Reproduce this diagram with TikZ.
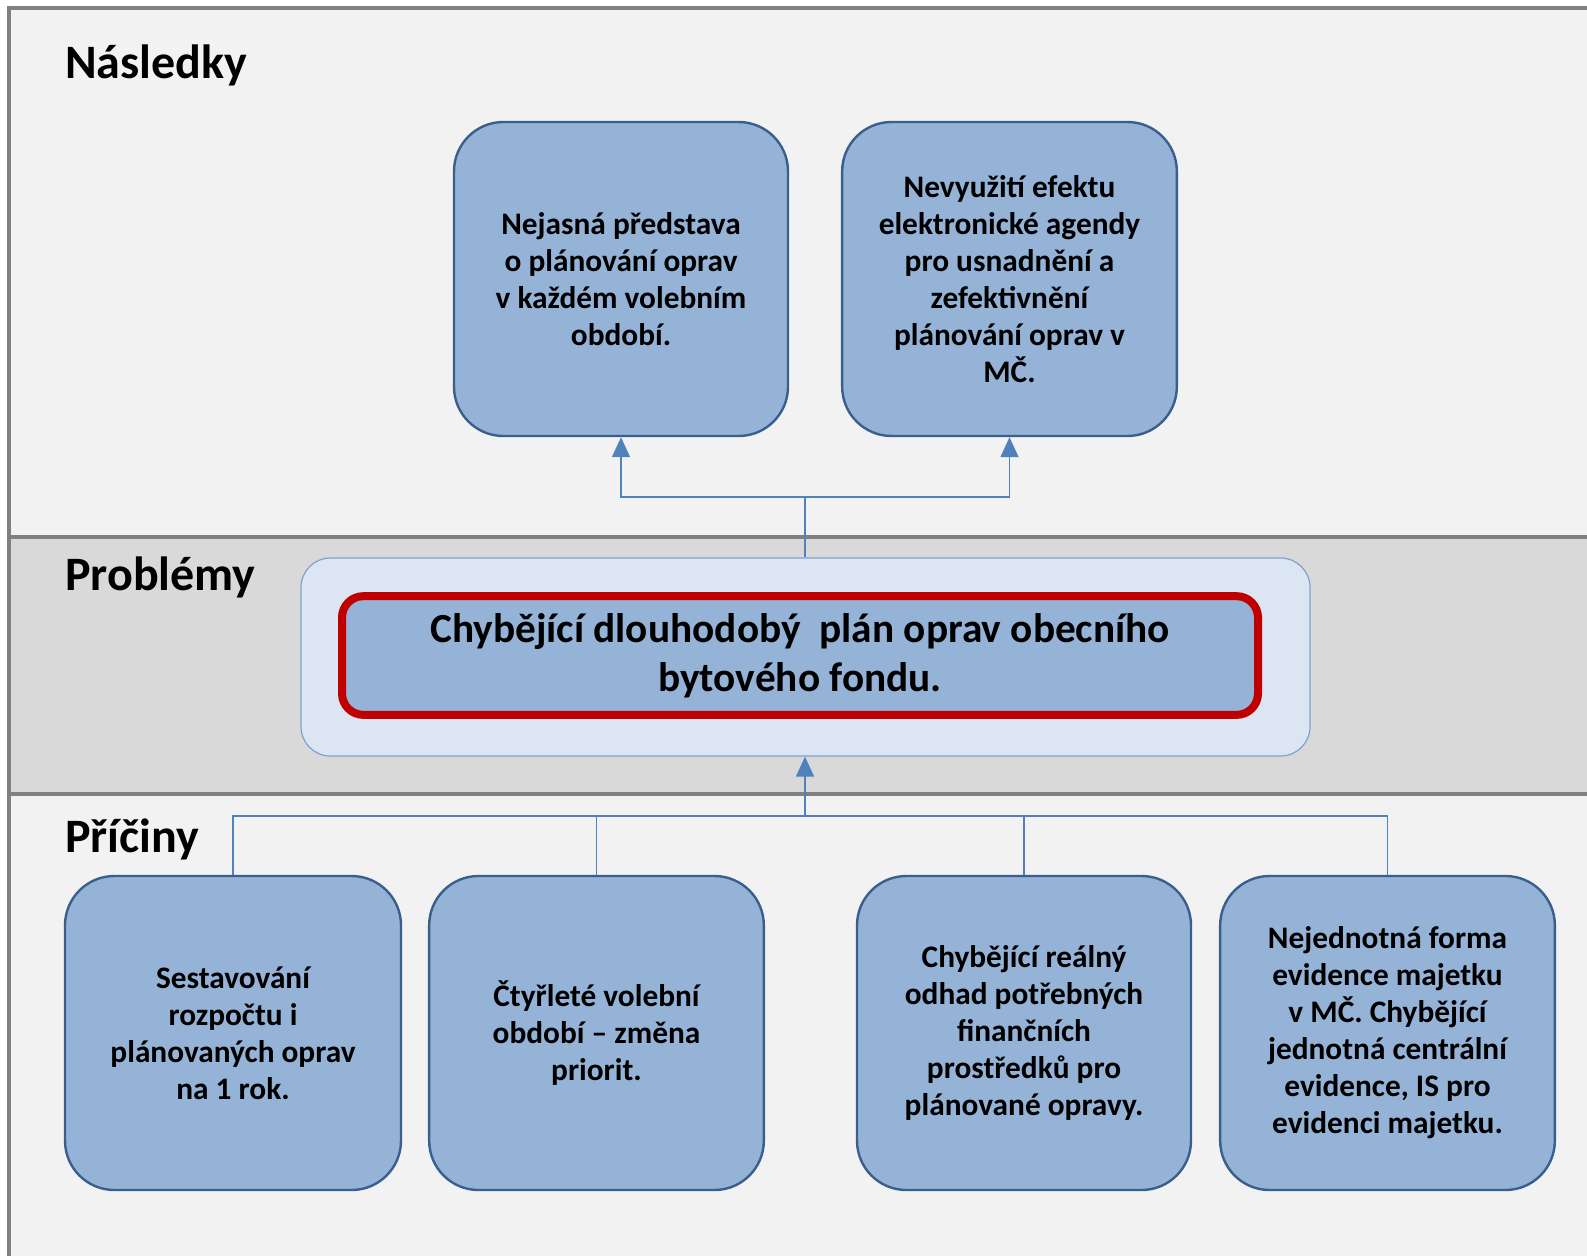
\documentclass[tikz,border=0pt]{standalone}
\usepackage{fontspec}
\setmainfont{Carlito}
\usetikzlibrary{arrows.meta}
\definecolor{bgc}{HTML}{F2F2F2}
\definecolor{bandc}{HTML}{D9D9D9}
\definecolor{framec}{HTML}{808080}
\definecolor{boxfill}{HTML}{95B3D7}
\definecolor{boxline}{HTML}{3A5F8C}
\definecolor{connc}{HTML}{4F81BD}
\definecolor{pfill}{HTML}{DCE6F2}
\definecolor{pline}{HTML}{7EA1D0}
\definecolor{redline}{HTML}{C00000}
\tikzset{
  cbox/.style={draw=boxline, line width=1.8pt, fill=boxfill, rounded corners=37pt,
    minimum height=235.5pt, inner sep=0pt, align=center,
    font=\bfseries\fontsize{23.5}{27.75}\selectfont},
  seclabel/.style={anchor=base west, inner sep=0pt, font=\bfseries\fontsize{36}{40}\selectfont},
  connline/.style={draw=connc, line width=1.1pt},
  connarrow/.style={connline, -{Triangle[length=15pt,width=13.5pt]}},
}
\begin{document}
\begin{tikzpicture}[x=0.75pt,y=-0.75pt]
\useasboundingbox (0,0) rectangle (1587,1256);
\fill[white] (0,0) rectangle (1587,1256);
\fill[bgc] (9,8) rectangle (1587,1256);
\fill[bandc] (9,537) rectangle (1587,794);
\draw[framec, line width=2.4pt] (9,1256) -- (9,8) -- (1587,8);
\draw[framec, line width=2.4pt] (9,537) -- (1587,537);
\draw[framec, line width=2.4pt] (9,794) -- (1587,794);

\node[seclabel] (lnas) at (65,79) {Následky};
\node[seclabel] (lpro) at (65,590) {Problémy};
\node[seclabel] (lpri) at (65,852) {Příčiny};

% consequences
\node[cbox, minimum width=250.5pt] (n1) at (621,279)
  {Nejasná představa\\o plánování oprav\\v každém volebním\\období.};
\node[cbox, minimum width=251pt] (n2) at (1009.5,279)
  {Nevyužití efektu\\elektronické agendy\\pro usnadnění a\\zefektivnění\\plánování oprav v\\MČ.};

% problem
\node[draw=pline, line width=0.9pt, fill=pfill, rounded corners=22pt,
      minimum width=756.75pt, minimum height=148.5pt, inner sep=0pt] (pout) at (805.5,657) {};
\node[draw=redline, line width=6pt, fill=boxfill, rounded corners=16pt,
      minimum width=687pt, minimum height=89pt, inner sep=0pt, align=center,
      font=\bfseries\fontsize{31}{36.5}\selectfont] (pin) at (800,655.5)
  {Chybějící dlouhodobý\ \ plán oprav obecního\\bytového fondu.};

% causes
\node[cbox, minimum width=252pt] (b1) at (233,1033)
  {Sestavování\\rozpočtu i\\plánovaných oprav\\na 1 rok.};
\node[cbox, minimum width=251pt] (b2) at (596.5,1033)
  {Čtyřleté volební\\období – změna\\priorit.};
\node[cbox, minimum width=250.5pt] (b3) at (1024,1033)
  {Chybějící reálný\\odhad potřebných\\finančních\\prostředků pro\\plánované opravy.};
\node[cbox, minimum width=251pt] (b4) at (1387.5,1033)
  {Nejednotná forma\\evidence majetku\\v MČ. Chybějící\\jednotná centrální\\evidence, IS pro\\evidenci majetku.};

% connectors
\coordinate (jt) at (805,497);
\coordinate (jb) at (805,816);
\draw[connline] (pout.north -| jt) -- (jt);
\draw[connarrow] (jt) -| (n1.south);
\draw[connarrow] (jt) -| (n2.south);
\draw[connline] (b1.north) |- (jb);
\draw[connline] (b4.north) |- (jb);
\draw[connline] (b2.north) -- (b2.north |- jb);
\draw[connline] (b3.north) -- (b3.north |- jb);
\draw[connarrow] (jb) -- (jb |- pout.south);
\end{tikzpicture}
\end{document}
